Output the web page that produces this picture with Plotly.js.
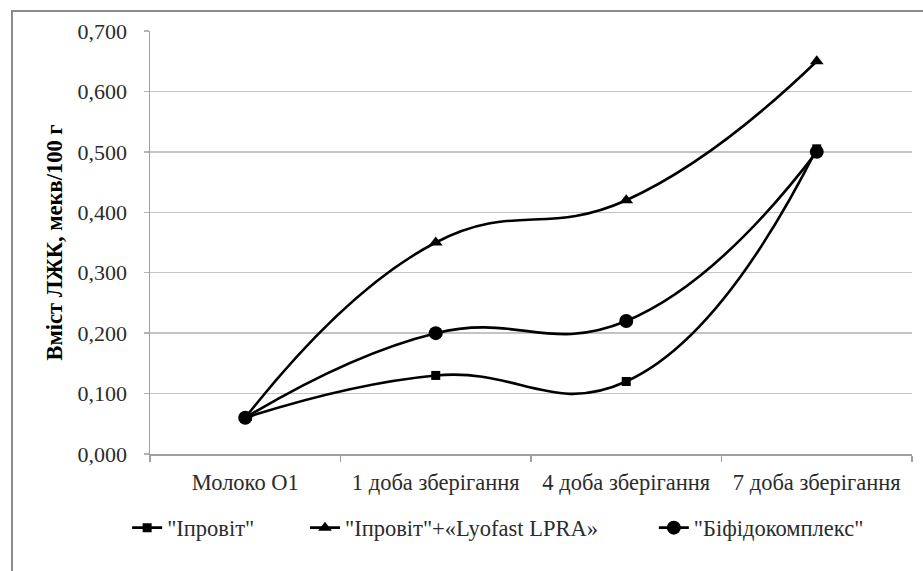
<!DOCTYPE html>
<html>
<head>
<meta charset="utf-8">
<script src="https://cdn.plot.ly/plotly-3.0.1.min.js"></script>
<style>
  html, body { margin: 0; padding: 0; background: #ffffff; }
  #chart { width: 923px; height: 571px; }
</style>
</head>
<body>
<div id="chart"></div>
<script>
// Storage stages on the category axis
const categories = ['Молоко О1', '1 доба зберігання', '4 доба зберігання', '7 доба зберігання'];

// Volatile fatty acid content, meq/100 g
const iprovit = [0.06, 0.13, 0.12, 0.505];
const iprovitLyofast = [0.06, 0.35, 0.42, 0.65];
const bifidocomplex = [0.06, 0.20, 0.22, 0.50];

const seriesNames = ['"Іпровіт"', '"Іпровіт"+«Lyofast LPRA»', '"Біфідокомплекс"'];

const yTicks = [0, 0.1, 0.2, 0.3, 0.4, 0.5, 0.6, 0.7];

const serif = 'Liberation Serif, Times New Roman, serif';
const textColor = '#2b2b2b';

function series(values, name, symbol, size, legendId) {
  return {
    x: categories,
    y: values,
    name: name,
    type: 'scatter',
    mode: 'lines+markers',
    line: { color: '#000000', width: 2.6, shape: 'spline', smoothing: 1.3 },
    marker: { symbol: symbol, size: size, color: '#000000' },
    legend: legendId,
    hoverinfo: 'skip'
  };
}

const data = [
  series(iprovit, seriesNames[0], 'square', 9, 'legend'),
  series(iprovitLyofast, seriesNames[1], 'triangle-up', 12, 'legend2'),
  series(bifidocomplex, seriesNames[2], 'circle', 14, 'legend3')
];

function legendAt(x) {
  return {
    orientation: 'h',
    x: x, xanchor: 'left',
    y: -0.175, yanchor: 'middle',
    bgcolor: 'rgba(0,0,0,0)',
    font: { family: serif, size: 22.5, color: textColor }
  };
}

const layout = {
  width: 923,
  height: 571,
  margin: { l: 150, r: 11, t: 31, b: 117 },
  paper_bgcolor: '#ffffff',
  plot_bgcolor: '#ffffff',
  font: { family: serif },
  separators: ', ',
  showlegend: true,
  legend: legendAt(-0.030),
  legend2: legendAt(0.2034),
  legend3: legendAt(0.6612),
  xaxis: {
    type: 'category',
    range: [-0.5, 3.5],
    tickson: 'boundaries',
    ticks: 'outside',
    ticklen: 6,
    tickcolor: '#a0a0a0',
    tickwidth: 1.5,
    showgrid: false,
    showline: true,
    linecolor: '#a0a0a0',
    linewidth: 1.5,
    zeroline: false,
    ticklabelstandoff: 7,
    tickfont: { family: serif, size: 22.5, color: textColor },
    fixedrange: true
  },
  yaxis: {
    range: [0, 0.7],
    tickvals: yTicks,
    tickformat: '.3f',
    ticks: 'outside',
    ticklen: 5,
    tickcolor: '#b4b4b4',
    tickwidth: 1.5,
    showgrid: true,
    gridcolor: '#c4c4c4',
    gridwidth: 1.5,
    showline: true,
    linecolor: '#a0a0a0',
    linewidth: 1.5,
    zeroline: false,
    ticklabelstandoff: 12,
    tickfont: { family: serif, size: 22, color: textColor },
    title: {
      text: 'Вміст ЛЖК, мекв/100 г',
      font: { family: serif, size: 22.5, color: '#000000', weight: 'bold' },
      standoff: 8
    },
    fixedrange: true
  },
  shapes: [
    // outer chart frame (only its left and top edges fall inside the page)
    {
      type: 'rect', xref: 'paper', yref: 'paper',
      x0: -0.1811, x1: 1.08, y0: -0.4, y1: 1.0473,
      line: { color: '#8a8a8a', width: 2 },
      fillcolor: 'rgba(0,0,0,0)', layer: 'below'
    }
  ]
};

Plotly.newPlot('chart', data, layout, { displayModeBar: false, staticPlot: true });
</script>
</body>
</html>
